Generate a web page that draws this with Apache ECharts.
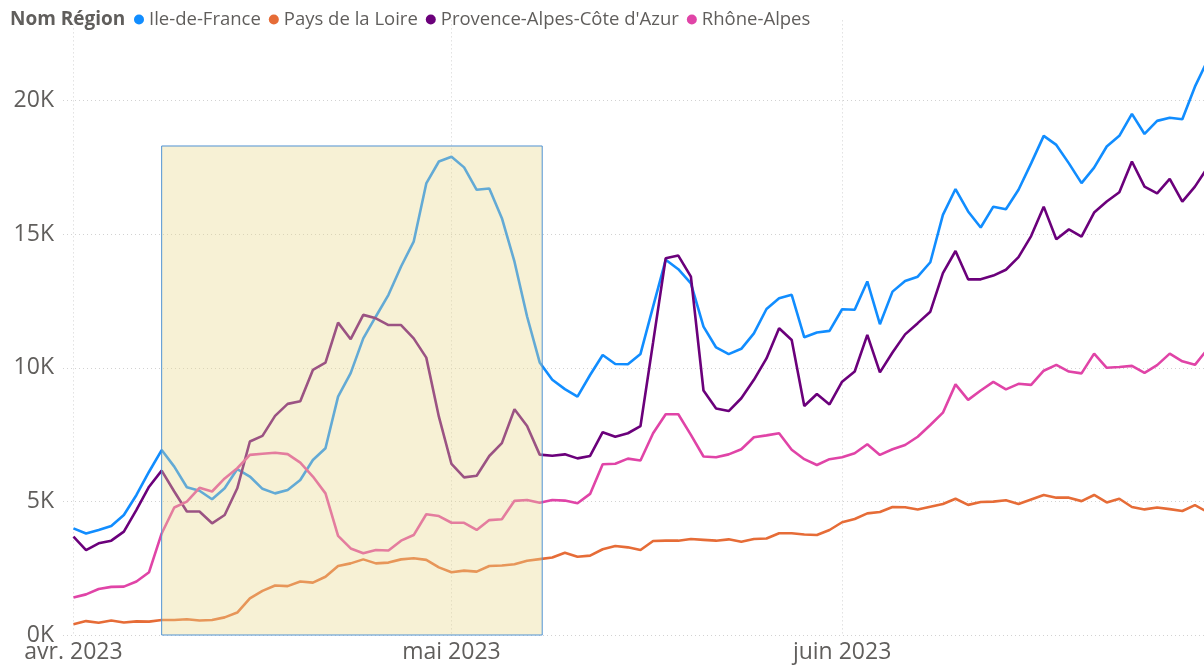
<!DOCTYPE html>
<html>
<head>
<meta charset="utf-8">
<script src="https://cdn.jsdelivr.net/npm/echarts@6.0.0/dist/echarts.min.js"></script>
<style>
  html, body { margin: 0; padding: 0; background: #fff; }
  #chart { width: 1204px; height: 668px; }
</style>
</head>
<body>
<div id="chart"></div>
<script>
// jours du 1er avril au 30 juin 2023 (index 0..90)
const dates = [];
for (let d = new Date(2023, 3, 1); d <= new Date(2023, 5, 30); d.setDate(d.getDate() + 1)) {
  dates.push(d.getFullYear() + '-' + String(d.getMonth() + 1).padStart(2, '0') + '-' + String(d.getDate()).padStart(2, '0'));
}

const regions = ['Ile-de-France', 'Pays de la Loire', "Provence-Alpes-Côte d'Azur", 'Rhône-Alpes'];
const colors = ['#118DFF', '#E66C37', '#6B007B', '#E044A7'];

const ileDeFrance = [
  3990, 3800, 3930, 4080, 4490, 5240, 6110, 6920, 6300, 5530,
  5400, 5080, 5490, 6210, 5930, 5470, 5300, 5430, 5800, 6550,
  6990, 8920, 9800, 11100, 11920, 12730, 13790, 14720, 16900, 17720,
  17900, 17500, 16660, 16710, 15600, 13970, 11920, 10200, 9550, 9200,
  8920, 9730, 10480, 10140, 10130, 10520, 12290, 14040, 13690, 13160,
  11540, 10760, 10510, 10710, 11290, 12200, 12600, 12730, 11140, 11320,
  11380, 12190, 12170, 13230, 11630, 12850, 13250, 13410, 13950, 15720,
  16690, 15850, 15250, 16030, 15930, 16660, 17650, 18680, 18340, 17650,
  16910, 17490, 18280, 18680, 19500, 18750, 19240, 19360, 19300, 20520,
  21500
];
const paysDeLaLoire = [
  400, 520, 460, 540, 470, 510, 500, 560, 560, 590,
  540, 560, 660, 840, 1370, 1650, 1850, 1830, 2000, 1960,
  2180, 2580, 2680, 2830, 2680, 2710, 2830, 2870, 2810, 2530,
  2350, 2410, 2370, 2580, 2600, 2650, 2780, 2840, 2900, 3080,
  2930, 2970, 3210, 3330, 3280, 3180, 3520, 3530, 3530, 3590,
  3560, 3530, 3580, 3490, 3590, 3610, 3810, 3810, 3760, 3740,
  3930, 4220, 4340, 4550, 4600, 4790, 4780, 4700, 4800, 4900,
  5100, 4870, 4980, 4990, 5040, 4900, 5070, 5240, 5140, 5140,
  5010, 5240, 4960, 5100, 4790, 4700, 4770, 4710, 4640, 4860,
  4600
];
const paca = [
  3680, 3180, 3430, 3530, 3870, 4680, 5550, 6150, 5370, 4620,
  4620, 4180, 4490, 5490, 7240, 7450, 8200, 8650, 8750, 9920,
  10190, 11690, 11070, 11980, 11850, 11600, 11600, 11100, 10380, 8170,
  6400, 5900, 5960, 6700, 7180, 8450, 7820, 6750, 6710, 6760,
  6610, 6700, 7590, 7420, 7550, 7820, 10950, 14100, 14200, 13410,
  9150, 8480, 8380, 8860, 9550, 10350, 11480, 11040, 8570, 9020,
  8630, 9480, 9860, 11230, 9830, 10570, 11250, 11670, 12100, 13540,
  14370, 13310, 13310, 13450, 13670, 14140, 14930, 16030, 14810, 15180,
  14910, 15810, 16220, 16570, 17720, 16780, 16530, 17070, 16220, 16780,
  17500
];
const rhoneAlpes = [
  1400, 1520, 1720, 1800, 1810, 2000, 2350, 3800, 4770, 4990,
  5510, 5370, 5860, 6240, 6740, 6780, 6820, 6770, 6450, 5930,
  5300, 3710, 3240, 3060, 3180, 3160, 3530, 3740, 4520, 4450,
  4200, 4200, 3930, 4300, 4330, 5020, 5050, 4950, 5050, 5030,
  4930, 5280, 6390, 6410, 6600, 6530, 7550, 8260, 8260, 7490,
  6680, 6650, 6760, 6950, 7400, 7470, 7550, 6930, 6580, 6360,
  6580, 6650, 6800, 7140, 6740, 6950, 7110, 7420, 7860, 8320,
  9380, 8800, 9150, 9470, 9190, 9400, 9360, 9890, 10110, 9860,
  9790, 10530, 10000, 10030, 10070, 9810, 10100, 10530, 10240, 10110,
  10700
];
const seriesValues = [ileDeFrance, paysDeLaLoire, paca, rhoneAlpes];

// étiquettes de l'axe X (premier jour de chaque mois)
const monthTicks = [0, 30, 61];
const monthLabels = ['avr. 2023', 'mai 2023', 'juin 2023'];
const yTicks = [0, 5000, 10000, 15000, 20000];

// zone surlignée (jours 7 -> 37)
const highlight = { from: 7, to: 37.2, top: 18300, bottom: -150 };

const font = '"Segoe UI", "Open Sans", "Noto Sans", sans-serif';
const gray = '#605E5C';

const chart = echarts.init(document.getElementById('chart'));

const series = regions.map((name, k) => ({
  name: name,
  type: 'line',
  symbol: 'none',
  data: seriesValues[k].map((v, i) => [i, v]),
  lineStyle: { width: 2.6, color: colors[k] },
  itemStyle: { color: colors[k] },
  emphasis: { disabled: true }
}));
// série vide qui ne sert qu'à porter le rectangle surligné
series.push({
  name: 'zone',
  type: 'line',
  data: [],
  clip: false,
  silent: true,
  markArea: {
    silent: true,
    z: 10,
    itemStyle: {
      color: 'rgba(234,218,145,0.38)',
      borderColor: '#5093D3',
      borderWidth: 1
    },
    label: { show: false },
    data: [[
      { coord: [highlight.from, highlight.top] },
      { coord: [highlight.to, highlight.bottom] }
    ]]
  }
});

chart.setOption({
  animation: false,
  textStyle: { fontFamily: font },
  title: {
    text: 'Nom Région',
    left: 10,
    top: 10,
    padding: 0,
    textStyle: { fontSize: 19, fontWeight: 'bold', color: gray, fontFamily: font }
  },
  legend: {
    data: regions,
    left: 134,
    top: 10,
    padding: 0,
    icon: 'circle',
    itemWidth: 10,
    itemHeight: 10,
    itemGap: 8,
    textStyle: { fontSize: 18.5, color: gray, fontFamily: font }
  },
  grid: {
    left: 63,
    right: 0,
    top: 20.4,
    bottom: 33,
    containLabel: false,
    outerBoundsMode: 'none'
  },
  xAxis: {
    type: 'value',
    min: -0.83,
    max: 89.72,
    axisLine: { show: false },
    axisTick: { show: false, customValues: monthTicks },
    axisLabel: {
      customValues: monthTicks,
      formatter: v => monthLabels[monthTicks.indexOf(v)] || '',
      fontSize: 23,
      color: gray,
      margin: 6,
      fontFamily: font
    },
    splitLine: { show: true, lineStyle: { color: '#D2D2D2', type: [1, 3], width: 1 } }
  },
  yAxis: {
    type: 'value',
    min: 0,
    max: 23000,
    interval: 5000,
    axisLine: { show: false },
    axisTick: { show: false },
    axisLabel: {
      formatter: v => yTicks.indexOf(v) >= 0 ? (v / 1000) + 'K' : '',
      showMaxLabel: false,
      fontSize: 23,
      color: gray,
      margin: 9,
      fontFamily: font
    },
    splitLine: { show: true, showMaxLine: false, lineStyle: { color: '#D2D2D2', type: [1, 3], width: 1 } }
  },
  series: series
});
</script>
</body>
</html>
